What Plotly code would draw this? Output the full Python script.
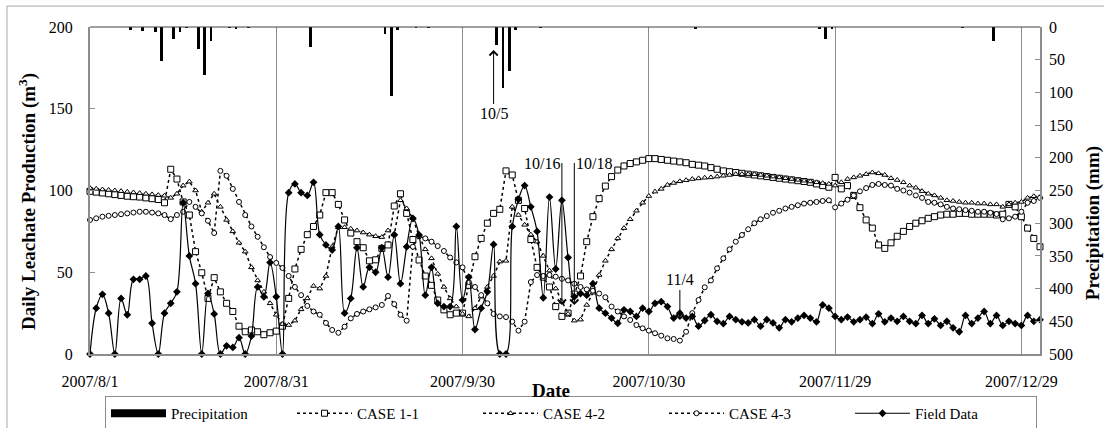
import pandas as pd
import plotly.graph_objects as go

# ---- daily leachate production (m3), one value per day from 2007-08-01 ----
field_data = [
    0, 28, 36.5, 25, 0, 34, 24, 45.7, 45.7, 47.7, 18.8, 0, 25, 31, 38, 92.5, 60, 43, 0, 37,
    24.5, 0, 5, 4, 10, 0, 11, 41, 35, 56, 35, 0, 98.7, 104, 98.7, 97, 105, 73, 66.7, 63.6,
    78, 25, 34, 65, 41, 53, 50, 65, 47, 73, 43, 65.6, 83, 72.8, 36, 53, 31, 29, 29, 78,
    33, 47, 15, 28, 38, 67, 0, 0, 78, 94.6, 103, 90, 75, 34.4, 96, 52, 94, 59, 35, 37,
    36, 43, 28, 25, 22, 18.8, 27, 26, 23, 28, 26, 31, 32, 29, 22, 25, 22, 23, 17, 20.5,
    24, 20, 18.6, 23, 21, 19.7, 19, 21, 17, 21, 19, 16, 21, 19.7, 22, 23.6, 22, 19.7, 30, 28,
    23, 21, 22.6, 19.7, 21, 22.5, 18.6, 24.6, 19.7, 22, 20, 23, 20, 18.6, 23.6, 18.6, 21.5, 17.5, 20, 16,
    13.6, 23.6, 18.6, 22, 26, 18.6, 23.6, 17.5, 20, 18.6, 17.5, 23.6, 20, 21,
]

case_1_1 = [
    99.5, 99, 98.5, 98, 97.5, 97, 96.5, 96.2, 96, 95.5, 95, 94.5, 92.5, 113, 107, 93, 85, 62.6, 49.7, 34,
    46.7, 38, 31, 26, 17, 13.6, 14.7, 13.6, 11.8, 13, 14, 17, 34, 52, 64, 73, 78, 85, 98.7, 98.7,
    91.5, 82, 74, 68.7, 65, 57, 57.6, 64.6, 66.7, 90.5, 98, 86, 70, 57.5, 47.7, 42, 33, 27, 24, 25,
    25, 42, 59.5, 70.7, 80, 86, 88.5, 112, 109.5, 94, 89, 70, 53, 47, 41, 29, 23, 25, 36.7, 47.7,
    68.7, 84, 95, 102.7, 108.5, 112.5, 115, 116.5, 117.5, 118.5, 119.5, 119.5, 119, 118.5, 118, 117.5, 117, 116, 115.5, 115,
    114, 113, 112, 111.5, 111, 110.5, 110, 109.5, 109, 108.5, 108, 107.5, 107, 106.5, 106, 105.5, 105, 104, 103, 102,
    108, 101, 103, 97, 89.5, 82, 77, 66.7, 64.6, 68, 72, 75, 78, 80, 81.5, 83, 84, 85, 85.5, 85.5,
    86, 86, 85.5, 85.5, 85.5, 85.5, 85, 85.5, 91.5, 90, 84, 77, 70.7, 65.6,
]

case_4_2 = [
    101.5, 101, 100.6, 100.3, 100, 99.6, 99.2, 98.8, 98.4, 98, 97.6, 97.2, 96.8, 95.5, 98, 103, 105.4, 100, 87, 92.5,
    98, 90, 82, 75, 68, 62.6, 53, 45, 38, 31, 24, 18.3, 17.7, 20.4, 27.3, 34, 41.6, 40, 47.7, 65.6,
    77.5, 77.5, 76.6, 75.5, 74.3, 73, 72, 71.5, 75.5, 73, 94, 89, 83, 72, 64, 58.5, 49, 41, 34, 29,
    24.5, 23, 28, 35, 41, 47.7, 56.5, 57, 90, 85, 79, 73, 68.7, 60, 51, 40, 32, 24.5, 20.4, 21,
    30, 37.5, 48.3, 57, 64, 70.7, 77, 82.4, 87.6, 92.5, 96.6, 99.3, 101, 103.4, 104.6, 105.6, 106.3, 107, 107.4, 107.8,
    108, 108.5, 109, 109.5, 110, 110, 110, 110, 109.5, 109, 108.5, 108, 107.5, 107, 106.5, 106, 105.5, 105, 104.5, 104,
    103, 105, 107, 108, 109, 110, 111, 110.5, 109.5, 107.5, 106.4, 105, 103, 101.7, 99.6, 98, 97, 95.5, 94, 93.6,
    93, 92.5, 92.5, 92, 92, 91.5, 91.5, 90, 91.5, 92.5, 93, 95.5, 96.5, 96,
]

case_4_3 = [
    82, 83, 84, 84.5, 85, 85.5, 86, 86.5, 87, 87, 86.5, 86, 85, 82.5, 85, 87, 93, 90, 86, 81.5,
    74, 112, 109, 101, 93, 85, 78, 71.7, 65.3, 59.3, 55.7, 52.6, 47.7, 41, 36, 29.4, 26, 24, 19, 14.7,
    13, 16.7, 21.8, 24.5, 26, 27.3, 28.5, 30, 35.5, 30.5, 24, 20.4, 65.6, 72, 70.7, 68.7, 66, 63, 59, 56,
    53, 44, 41, 36, 31, 24.5, 23, 22.6, 19.8, 14.3, 19.8, 44, 48.3, 47.7, 48.3, 47.3, 46, 45, 43, 41,
    39.5, 38.7, 37, 34.7, 29, 26, 23, 20.8, 17.7, 15.7, 14.3, 12.7, 11.2, 9.6, 9.2, 8.2, 13.6, 25, 33, 40.8,
    45, 52.4, 58.5, 64, 68.7, 72.8, 76.3, 80, 82.4, 84.4, 86.4, 87.6, 89, 90, 91, 92, 92.5, 93, 93.6, 94,
    89.7, 92, 94.4, 97, 99.5, 101.5, 103.4, 104, 103.4, 103, 101, 100, 98.7, 97, 95.5, 93, 92.5, 91.5, 90, 89,
    88.5, 88, 87.6, 87, 87, 86.4, 85.6, 82.4, 83, 84, 87, 92.5, 93.6, 95.5,
]

# ---- daily precipitation (mm) ----
rain_dates = [
    "2007-08-07", "2007-08-09", "2007-08-11", "2007-08-12", "2007-08-14", "2007-08-15",
    "2007-08-16", "2007-08-18", "2007-08-19", "2007-08-20", "2007-08-23", "2007-08-24",
    "2007-08-26", "2007-09-05", "2007-09-17", "2007-09-18", "2007-09-19", "2007-09-22",
    "2007-09-24", "2007-10-05", "2007-10-06", "2007-10-07", "2007-10-08", "2007-10-12",
    "2007-11-06", "2007-11-26", "2007-11-27", "2007-11-28", "2007-12-19", "2007-12-24",
]
rain_mm = [
    4, 6, 8, 52, 19, 8,
    1, 34, 74, 21, 1.5, 2,
    1, 30, 10, 105, 5, 1,
    1, 27, 94, 67, 4, 1,
    3, 2, 19, 3, 1, 22,
]

tick_dates = ["2007-08-01", "2007-08-31", "2007-09-30", "2007-10-30", "2007-11-29", "2007-12-29"]
tick_text = ["2007/8/1", "2007/8/31", "2007/9/30", "2007/10/30", "2007/11/29", "2007/12/29"]

dates = pd.date_range("2007-08-01", periods=len(field_data), freq="D")

FONT = "Liberation Serif, Times New Roman, serif"
GRAY = "#8c8c8c"
DAY_MS = 86400000

fig = go.Figure()

# legend swatch for the precipitation bars (a thick black bar)
fig.add_trace(go.Scatter(
    x=[None], y=[None], mode="lines", name="Precipitation",
    line=dict(color="black", width=8),
))

fig.add_trace(go.Bar(
    x=rain_dates, y=rain_mm, yaxis="y2", name="Precipitation",
    xperiod=DAY_MS, xperiodalignment="middle",
    width=0.45 * DAY_MS, marker=dict(color="black", line=dict(width=0)),
    showlegend=False,
))

dotted = dict(color="black", width=1.5, dash="dot")

fig.add_trace(go.Scatter(
    x=dates, y=case_1_1, name="CASE 1-1", mode="lines+markers",
    line=dotted, cliponaxis=False,
    marker=dict(symbol="square", size=6, color="white", line=dict(color="black", width=1)),
))
fig.add_trace(go.Scatter(
    x=dates, y=case_4_2, name="CASE 4-2", mode="lines+markers",
    line=dotted, cliponaxis=False,
    marker=dict(symbol="triangle-up", size=5, color="white", line=dict(color="black", width=1)),
))
fig.add_trace(go.Scatter(
    x=dates, y=case_4_3, name="CASE 4-3", mode="lines+markers",
    line=dotted, cliponaxis=False,
    marker=dict(symbol="circle", size=5, color="white", line=dict(color="black", width=1)),
))
fig.add_trace(go.Scatter(
    x=dates, y=field_data, name="Field Data", mode="lines+markers",
    line=dict(color="black", width=1.2, shape="spline", smoothing=1.0), cliponaxis=False,
    marker=dict(symbol="diamond", size=6, color="black"),
))

label_font = dict(family=FONT, size=16, color="black")
arrow_style = dict(showarrow=True, arrowhead=4, arrowsize=1.6, arrowwidth=1, arrowcolor="black",
                   xref="x", yref="y", axref="x", ayref="y", font=label_font)

# each label sits at the tail of its arrow; the head points at the event
annotations = [
    dict(x="2007-10-05", y=185.9, ax="2007-10-05", ay=146.8, text="10/5", **arrow_style),
    dict(x="2007-11-04", y=20.8, ax="2007-11-04", ay=45.3, text="11/4", **arrow_style),
    dict(x="2007-10-16", y=30.0, ax="2007-10-16", ay=116.8, text="10/16",
         xanchor="right", **arrow_style),
    dict(x="2007-10-18", y=30.0, ax="2007-10-18", ay=116.8, text="10/18",
         xanchor="left", **arrow_style),
]

title_font = dict(family=FONT, size=19, color="black")
annotations += [
    dict(x=-0.0653, y=0.468, xref="paper", yref="paper", xanchor="center", yanchor="middle",
         text="<b>Daily Leachate Production (m<sup>3</sup>)</b>",
         textangle=-90, showarrow=False, font=title_font),
    dict(x=1.0558, y=0.40, xref="paper", yref="paper", xanchor="center", yanchor="middle",
         text="<b>Precipitation (mm)</b>",
         textangle=-90, showarrow=False, font=title_font),
    dict(x=0.485, y=-0.112, xref="paper", yref="paper", xanchor="center", yanchor="middle",
         text="<b>Date</b>", showarrow=False, font=title_font),
]

shapes = [
    # chart frame
    dict(type="rect", xref="paper", yref="paper", x0=-0.0874, x1=1.2, y0=-0.4, y1=1.064,
         line=dict(color="#a6a6a6", width=1), layer="below"),
    # zero line of the precipitation axis along the top of the plot
    dict(type="line", xref="paper", yref="paper", x0=0, x1=1, y0=1, y1=1,
         line=dict(color="#404040", width=1)),
]

fig.update_layout(
    width=1104, height=428,
    margin=dict(l=90, r=64, t=27, b=74, autoexpand=False),
    paper_bgcolor="white", plot_bgcolor="white",
    font=dict(family=FONT, size=16, color="black"),
    bargap=0,
    showlegend=True,
    legend=dict(
        orientation="h", x=0.0158, y=-0.1284, xanchor="left", yanchor="top",
        bordercolor=GRAY, borderwidth=1, bgcolor="white",
        font=dict(family=FONT, size=15, color="black"),
        entrywidth=116, entrywidthmode="pixels", traceorder="normal",
        tracegroupgap=0, itemwidth=55,
    ),
    xaxis=dict(
        type="date", range=["2007-08-01", "2008-01-01"],
        tickvals=tick_dates, ticktext=tick_text,
        showgrid=True, gridcolor=GRAY, gridwidth=1,
        showline=True, linecolor=GRAY, linewidth=2,
        ticks="", ticklabelstandoff=12,
        tickfont=dict(family=FONT, size=16, color="black"),
        zeroline=False,
    ),
    yaxis=dict(
        range=[0, 200], tickvals=[0, 50, 100, 150, 200],
        showgrid=False, zeroline=False,
        showline=True, linecolor=GRAY, linewidth=2,
        ticks="inside", ticklen=5, tickcolor=GRAY, ticklabelstandoff=12,
        tickfont=dict(family=FONT, size=16, color="black"),
    ),
    yaxis2=dict(
        overlaying="y", side="right", range=[500, 0],
        tickvals=list(range(0, 501, 50)),
        showgrid=False, zeroline=False,
        showline=True, linecolor=GRAY, linewidth=1.5,
        ticks="inside", ticklen=5, tickcolor=GRAY, ticklabelstandoff=4,
        tickfont=dict(family=FONT, size=16, color="black"),
    ),
    annotations=annotations,
    shapes=shapes,
)

fig.write_html("out.html")
